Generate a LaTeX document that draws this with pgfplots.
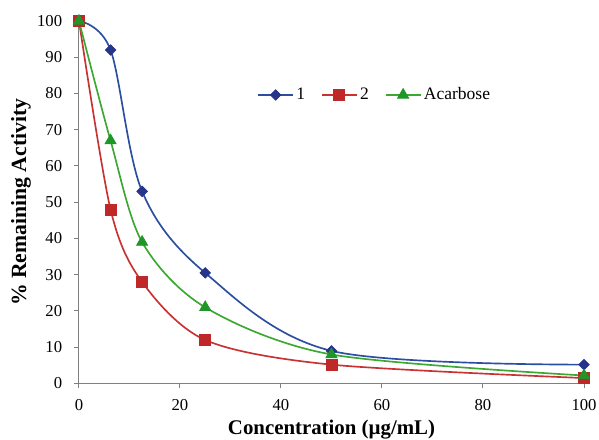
\documentclass[border=0pt]{standalone}
\usepackage{pgfplots}
\pgfplotsset{compat=1.18}
\usepackage{fontspec}
\setmainfont{Liberation Serif}
\definecolor{cblue}{RGB}{44,78,160}
\definecolor{cbluem}{RGB}{38,52,140}
\definecolor{cred}{RGB}{200,50,50}
\definecolor{credm}{RGB}{190,40,40}
\definecolor{cgreen}{RGB}{60,168,50}
\definecolor{cgreenm}{RGB}{30,150,40}
\definecolor{axgray}{RGB}{128,128,128}
\begin{document}
\begin{tikzpicture}
\begin{axis}[
  scale only axis,
  width=303pt, height=217.5pt,
  xmin=0, xmax=100, ymin=0, ymax=100,
  axis lines*=left,
  axis line style={axgray, line width=0.6pt},
  xtick={0,20,...,100}, ytick={0,10,...,100},
  tick align=outside,
  major tick length=3pt,
  tick style={axgray, line width=0.6pt},
  tick label style={font=\fontsize{10}{12}\selectfont},
  yticklabel style={xshift=-3.6pt},
  xticklabel style={yshift=-3.3pt},
  /pgf/number format/assume math mode=true,
  xlabel={\bfseries Concentration (µg/mL)},
  ylabel={\bfseries \% Remaining Activity},
  xlabel style={font=\fontsize{12.5}{14}\selectfont, at={(axis description cs:0.5,-0.127)}, anchor=center},
  ylabel style={font=\fontsize{13}{15}\selectfont, at={(axis description cs:-0.115,0.5)}, anchor=center},
  clip=false,
  legend columns=3,
  legend style={draw=none, fill=none, at={(axis cs:58.6,79.6)}, anchor=center,
    font=\fontsize{10.5}{12}\selectfont,
    nodes={inner xsep=1.5pt},
    /tikz/every even column/.append style={column sep=8pt}},
  legend image code/.code={\draw[mark repeat=2,mark phase=2] plot coordinates {(0pt,0pt) (10.5pt,0pt) (21pt,0pt)};},
]
\coordinate (bl) at (rel axis cs:0,0);
\coordinate (tr) at (rel axis cs:1,1);
\addplot[cblue, line width=1pt, smooth, tension=0.55, mark=square*, mark size=2.2pt, mark options={rotate=45, fill=cbluem, draw=cbluem, line width=0.5pt}]
 coordinates {(0,100) (6.25,92) (12.5,53) (25,30.5) (50,9) (100,5.2)};
\addlegendentry{1}
\addplot[cred, line width=1pt, smooth, tension=0.5, mark=square*, mark size=3.3pt, mark options={fill=credm, draw=credm, line width=0.5pt}]
 coordinates {(0,100) (6.25,48) (12.5,28) (25,12) (50,5.2) (100,1.5)};
\addlegendentry{2}
\addplot[cgreen, line width=1pt, smooth, tension=0.5, mark=triangle*, mark size=3.8pt, mark options={fill=cgreenm, draw=cgreenm, line width=0.5pt}]
 coordinates {(0,100) (6.25,67) (12.5,39) (25,21) (50,8) (100,2.2)};
\addlegendentry{Acarbose}
\end{axis}
\pgfresetboundingbox
\path ([shift={(-47.4pt,-33.6pt)}]bl) rectangle ([shift={(9pt,12.6pt)}]tr);
\end{tikzpicture}
\end{document}
